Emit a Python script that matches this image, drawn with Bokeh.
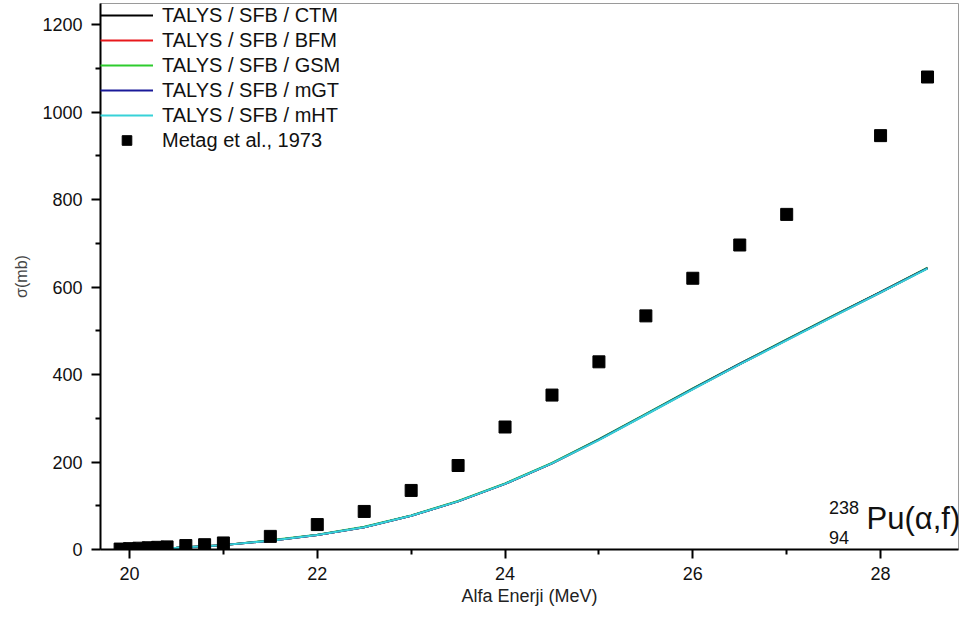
from bokeh.plotting import figure
from bokeh.models import FixedTicker, Label, Legend, LegendItem, Range1d
from bokeh.embed import file_html
from bokeh.resources import INLINE

# ---- data ----
talys_energy = [19.9, 20.0, 20.5, 21.0, 21.5, 22.0, 22.5, 23.0, 23.5, 24.0,
                24.5, 25.0, 25.5, 26.0, 26.5, 27.0, 27.5, 28.0, 28.5]
talys_ctm = [1, 1.5, 4, 10, 20, 33, 51, 77, 110, 150, 197, 251, 309, 367, 424, 479, 534, 588, 643]
talys_bfm = [1, 1.5, 4, 10, 20, 33, 51, 77, 110, 150, 197, 251, 309, 367, 424, 479, 534, 588, 643]
talys_gsm = [1, 1.5, 4, 10, 21, 34, 52, 78, 111, 151, 198, 252, 310, 368, 425, 480, 535, 589, 644]
talys_mgt = [1, 1.5, 4, 10, 20, 33, 51, 77, 110, 150, 197, 251, 309, 367, 424, 479, 534, 588, 643]
talys_mht = [1, 1.5, 4, 10, 20, 33, 51, 77, 110, 150, 197, 250, 308, 366, 423, 478, 533, 587, 642]

exp_energy = [19.9, 20.0, 20.1, 20.2, 20.3, 20.4, 20.6, 20.8, 21.0, 21.5, 22.0,
              22.5, 23.0, 23.5, 24.0, 24.5, 25.0, 25.5, 26.0, 26.5, 27.0, 28.0, 28.5]
exp_sigma = [1, 2, 3, 4, 5, 6, 9, 11, 15, 30, 57,
             87, 135, 192, 280, 353, 429, 534, 620, 696, 766, 946, 1080]

series_labels = ["TALYS / SFB / CTM", "TALYS / SFB / BFM", "TALYS / SFB / GSM",
                 "TALYS / SFB / mGT", "TALYS / SFB / mHT"]
series_colors = ["#000000", "#e8191c", "#2ecc2e", "#1a1a99", "#37d2d8"]
exp_label = "Metag et al., 1973"

x_major = [20, 22, 24, 26, 28]
x_minor = [21, 23, 25, 27]
y_major = [0, 200, 400, 600, 800, 1000, 1200]
y_minor = [100, 300, 500, 700, 900, 1100]

FONT = "Liberation Sans"

p = figure(width=960, height=612, output_backend="svg", toolbar_location=None,
           x_range=Range1d(19.691, 28.83), y_range=Range1d(0, 1248),
           min_border_left=100, min_border_right=2, min_border_top=3,
           min_border_bottom=63)
p.grid.visible = False
p.outline_line_color = "#9a9a9a"
p.outline_line_width = 1
p.background_fill_color = "white"
p.border_fill_color = "white"

for ax in (p.xaxis[0], p.yaxis[0]):
    ax.axis_line_width = 2
    ax.axis_line_color = "black"
    ax.major_tick_line_width = 2
    ax.minor_tick_line_width = 2
    ax.major_tick_out = 9
    ax.major_tick_in = 0
    ax.minor_tick_out = 5
    ax.minor_tick_in = 0
    ax.major_label_text_font = FONT
    ax.major_label_text_font_size = "18px"
    ax.major_label_text_color = "#111111"
    ax.axis_label_text_font = FONT
    ax.axis_label_text_font_style = "normal"

p.xaxis.major_label_standoff = 8
p.yaxis.major_label_standoff = 9
p.xaxis.ticker = FixedTicker(ticks=x_major, minor_ticks=x_minor)
p.yaxis.ticker = FixedTicker(ticks=y_major, minor_ticks=y_minor)
p.xaxis.axis_label = "Alfa Enerji (MeV)"
p.xaxis.axis_label_text_font_size = "18px"
p.xaxis.axis_label_text_color = "#222222"
p.xaxis.axis_label_standoff = 3
p.yaxis.axis_label = "σ(mb)"
p.yaxis.axis_label_text_font_size = "16px"
p.yaxis.axis_label_text_color = "#444444"
p.yaxis.axis_label_standoff = 9

items = []
for vals, lab, col in zip([talys_ctm, talys_bfm, talys_gsm, talys_mgt, talys_mht],
                          series_labels, series_colors):
    r = p.line(talys_energy, vals, line_color=col, line_width=2)
    items.append(LegendItem(label=lab, renderers=[r]))

sc = p.scatter(exp_energy, exp_sigma, marker="square", size=12,
               fill_color="black", line_color="black")
items.append(LegendItem(label=exp_label, renderers=[sc]))

legend = Legend(items=items, location="top_left")
legend.margin = 0
legend.padding = 0
legend.spacing = 1
legend.glyph_width = 53
legend.glyph_height = 24
legend.label_height = 24
legend.label_standoff = 9
legend.label_text_font = FONT
legend.label_text_font_size = "20px"
legend.label_text_color = "#111111"
legend.background_fill_alpha = 0
legend.border_line_alpha = 0
p.add_layout(legend)

p.add_layout(Label(x=27.85, y=30, text="Pu(α,f)", text_font=FONT,
                   text_font_size="31px", text_color="#111111"))
p.add_layout(Label(x=27.45, y=82, text="238", text_font=FONT,
                   text_font_size="18px", text_color="#111111"))
p.add_layout(Label(x=27.45, y=12, text="94", text_font=FONT,
                   text_font_size="18px", text_color="#111111"))

open("out.html", "w").write(file_html(p, INLINE))
